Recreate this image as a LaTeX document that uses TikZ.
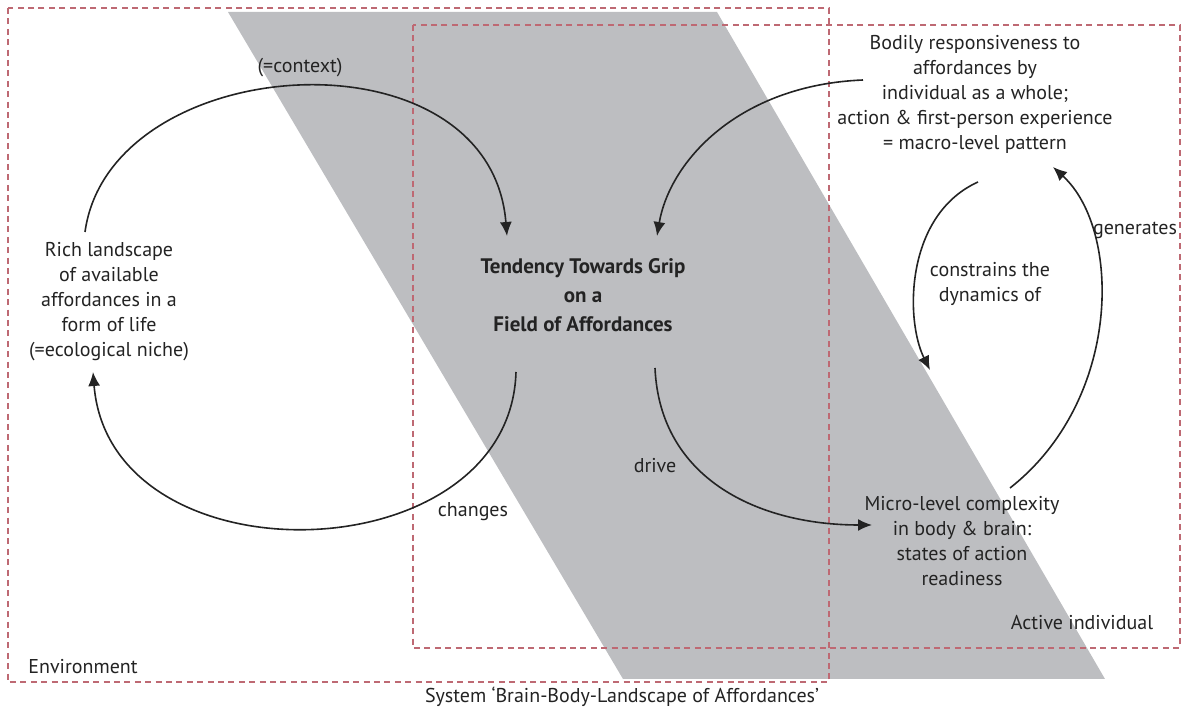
\documentclass[tikz,border=0pt]{standalone}
\usepackage{fontspec}
\setmainfont{PT Sans}
\usetikzlibrary{arrows.meta}
\definecolor{grayband}{RGB}{189,190,193}
\definecolor{dashred}{RGB}{190,105,115}
\definecolor{txt}{RGB}{35,35,35}
\tikzset{
  boxline/.style={draw=dashred, line width=0.9pt, dash pattern=on 3pt off 2.2pt},
  conn/.style={draw=txt, line width=0.8pt, -{Latex[length=7pt,width=6pt]}},
  lbl/.style={inner sep=0pt, text=txt, font=\fontsize{10}{12.5}\selectfont, align=center},
  mainlbl/.style={inner sep=0pt, text=txt, font=\fontsize{10.5}{14.5}\selectfont\bfseries, align=center}
}
\begin{document}
\begin{tikzpicture}[x=0.5pt,y=-0.5pt]
\useasboundingbox (0,0) rectangle (1191,715);
% grey band
\fill[grayband] (228,12) -- (717,12) -- (1105,679) -- (623,679) -- cycle;
% dashed boxes
\draw[boxline] (8,8) rectangle (829,682);
\draw[boxline] (413,25) rectangle (1180,648);
% text nodes
\node[lbl] (rich) at (109,302) {Rich landscape\\of available\\affordances in a\\form of life\\(=ecological niche)};
\node[mainlbl] (tend) at (583,295) {Tendency Towards Grip\\on a\\Field of Affordances};
\node[lbl] (bodily) at (975,94) {Bodily responsiveness to\\affordances by\\individual as a whole;\\action \& first-person experience\\= macro-level pattern};
\node[lbl] (micro) at (962,541) {Micro-level complexity\\in body \& brain:\\states of action\\readiness};
\node[lbl] (context) at (300,68) {(=context)};
\node[lbl] (changes) at (473,512) {changes};
\node[lbl] (drive) at (655,466) {drive};
\node[lbl] (constr) at (990,284) {constrains the\\dynamics of};
\node[lbl] (gen) at (1135,230) {generates};
\node[lbl, anchor=west] (env) at (28,667) {Environment};
\node[lbl] (active) at (1082,623) {Active individual};
\node[lbl] (system) at (622,697) {System `Brain-Body-Landscape of Affordances'};
% connector end points
\coordinate (richtop) at (85,232);
\coordinate (richbot) at (93,372);
\coordinate (tendtl) at (507,236);
\coordinate (tendtr) at (657,236);
\coordinate (tendbl) at (516,372);
\coordinate (tendbr) at (655,368);
\coordinate (bodl) at (863,80);
\coordinate (bodb) at (978,182);
\coordinate (bodbr) at (1053,167);
\coordinate (microl) at (872,525);
\coordinate (microtop) at (930,370);
\coordinate (microtr) at (1010,488);
% connectors
\draw[conn] (richtop) .. controls (110,50) and (490,25) .. (tendtl);
\draw[conn] (bodl) .. controls (740,85) and (670,160) .. (tendtr);
\draw[conn] (tendbl) .. controls (510,575) and (110,585) .. (richbot);
\draw[conn] (tendbr) .. controls (660,480) and (760,525) .. (microl);
\draw[conn] (bodb) .. controls (905,215) and (905,320) .. (microtop);
\draw[conn] (microtr) .. controls (1122,400) and (1122,230) .. (bodbr);
\end{tikzpicture}
\end{document}
